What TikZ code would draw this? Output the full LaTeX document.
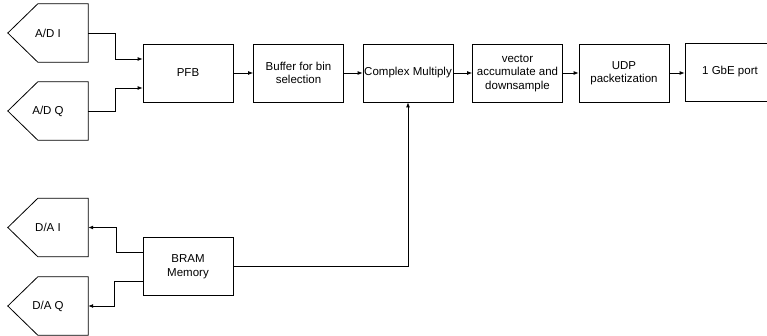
\documentclass[tikz,border=0pt]{standalone}
\usepackage{fontspec}
\setmainfont{Liberation Sans}
\usetikzlibrary{arrows.meta}

\begin{document}
\begin{tikzpicture}[x=1pt,y=-1pt,
    blk/.style={draw, line width=0.8pt, minimum width=90pt, minimum height=58pt, align=center, inner sep=1pt, font=\fontsize{11.5}{13.5}\selectfont},
    port/.style={minimum width=80pt, minimum height=58pt, inner sep=1pt, font=\fontsize{11.5}{13.5}\selectfont},
    arr/.style={-{Latex[length=5pt,width=4pt]}, line width=0.8pt}]
    \useasboundingbox (0,0) rectangle (767,336);
    % converters on the left
    \node[port] (adi) at (48,33) {A/D I};
    \node[port] (adq) at (48,111) {A/D Q};
    \node[port] (dai) at (48,227.5) {D/A I};
    \node[port] (daq) at (48,306) {D/A Q};
    \foreach \p in {adi,adq,dai,daq}
        \draw[line width=0.8pt] (\p.north east) -- (\p.south east) -- ([xshift=30pt]\p.south west)
            -- (\p.west) -- ([xshift=30pt]\p.north west) -- cycle;
    % processing chain
    \node[blk] (pfb) at (188,73) {PFB};
    \node[blk] (buf) at (298.5,73) {Buffer for bin\\selection};
    \node[blk] (cm) at (408,73) {Complex Multiply};
    \node[blk] (vec) at (517.5,73) {vector\\accumulate and\\downsample};
    \node[blk] (udp) at (624,73) {UDP\\packetization};
    \node[blk] (gbe) at (730,72) {1 GbE port};
    \node[blk] (bram) at (188,266.5) {BRAM\\Memory};
    % connectors
    \draw[arr] (adi.east) -- ++(27,0) |- ([yshift=14pt]pfb.west);
    \draw[arr] (adq.east) -- ++(27,0) |- ([yshift=-15pt]pfb.west);
    \draw[arr] (pfb) -- (buf);
    \draw[arr] (buf) -- (cm);
    \draw[arr] (cm) -- (vec);
    \draw[arr] (vec) -- (udp);
    \draw[arr] (udp.east) -- (udp.east -| gbe.west);
    \draw[arr] (bram.east) -| (cm.south);
    \draw[arr] ([yshift=14.5pt]bram.west) -- ++(-26,0) |- (dai.east);
    \draw[arr] ([yshift=-14.5pt]bram.west) -- ++(-28,0) |- (daq.east);
\end{tikzpicture}
\end{document}
